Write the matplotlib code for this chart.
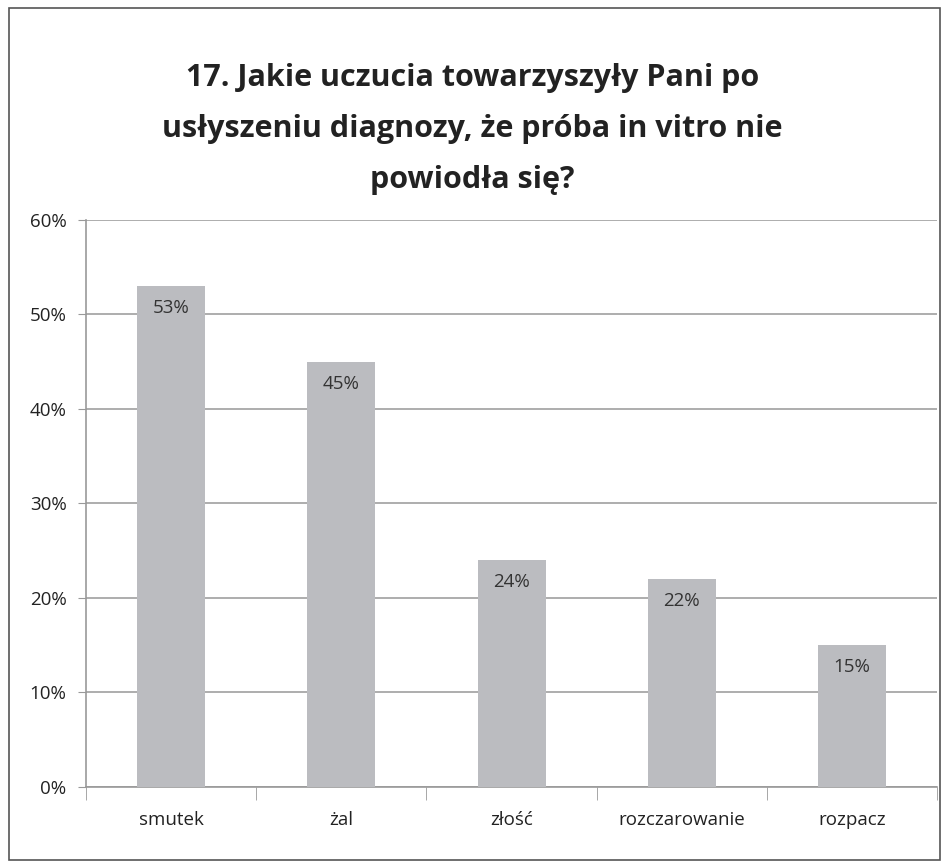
import matplotlib.pyplot as plt
from matplotlib.patches import Rectangle

categories = ["smutek", "żal", "złość", "rozczarowanie", "rozpacz"]
values = [53, 45, 24, 22, 15]
yticks = [0, 10, 20, 30, 40, 50, 60]
title = "17. Jakie uczucia towarzyszyły Pani po\nusłyszeniu diagnozy, że próba in vitro nie\npowiodła się?"

plt.rcParams['font.family'] = ['Open Sans', 'DejaVu Sans']

fig = plt.figure(figsize=(9.49, 8.67), dpi=100)
ax = fig.add_axes([0.0906, 0.0923, 0.897, 0.654])

# border round the whole chart
fig.patches.append(Rectangle((0.009, 0.008), 0.982, 0.983, transform=fig.transFigure,
                             fill=False, edgecolor="#555555", linewidth=1.2))

x = list(range(len(categories)))
ax.bar(x, values, width=0.4, color="#bbbcc0", zorder=3)
for xi, v in zip(x, values):
    ax.text(xi, v - 2.35, f"{v}%", ha="center", va="center", fontsize=13.5, color="#333333", zorder=4)

ax.set_xlim(-0.5, len(categories) - 0.5)
ax.set_ylim(0, 60)
ax.set_yticks(yticks)
ax.set_yticklabels([f"{t}%" for t in yticks], fontsize=13.5, color="#222222")
ax.set_xticks(x)
ax.set_xticklabels(categories, fontsize=13.5, color="#222222")
ax.tick_params(axis="x", length=0, pad=17)
ax.tick_params(axis="y", length=6, color="#999999", pad=8)
ax.set_xticks([i - 0.5 for i in range(len(categories) + 1)], minor=True)
ax.tick_params(axis="x", which="minor", length=9, color="#999999")

ax.grid(axis="y", color="#a0a0a0", linewidth=1.2, zorder=0)
for s in ["top", "right"]:
    ax.spines[s].set_visible(False)
for s in ["left", "bottom"]:
    ax.spines[s].set_color("#999999")
    ax.spines[s].set_linewidth(1.2)

fig.text(0.498, 0.851, title, ha="center", va="center", fontsize=22, fontweight="bold",
         color="#222222", linespacing=1.9)

fig.savefig("out.png", dpi=100)
